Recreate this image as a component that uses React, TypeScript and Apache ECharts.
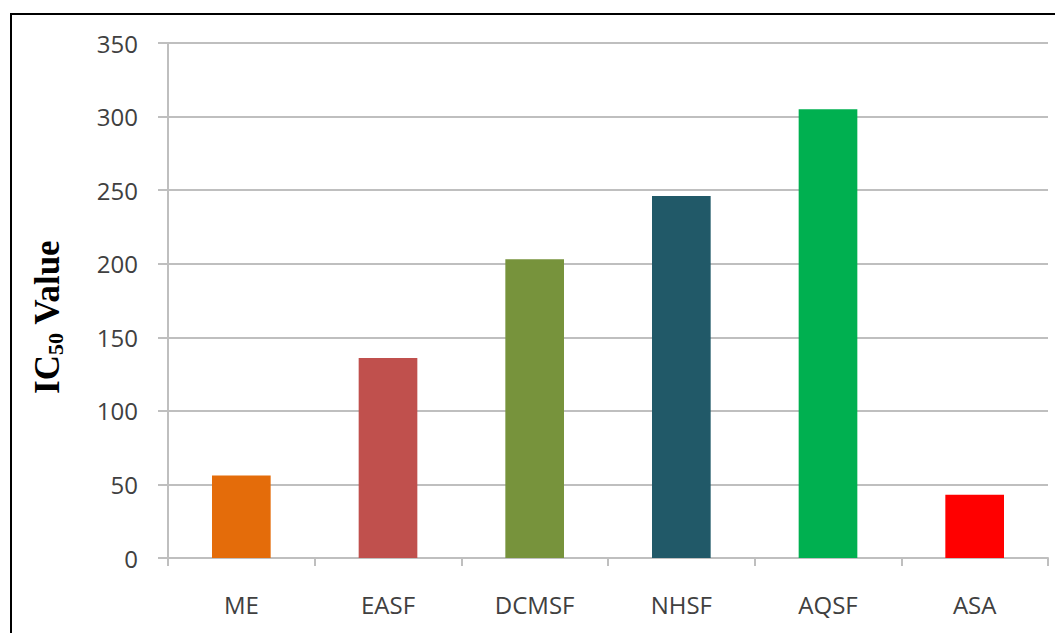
import React, { useEffect, useRef } from "react";
import * as echarts from "echarts";

// IC50 values per extract / reference compound
const categories = ["ME", "EASF", "DCMSF", "NHSF", "AQSF", "ASA"];
const ic50Values = [56, 136, 203, 246, 305, 43];
const barColors = ["#E46C0A", "#C0504D", "#77933C", "#215968", "#00B050", "#FF0000"];
const yTicks = { min: 0, max: 350, interval: 50 };

export default function App() {
  const ref = useRef<HTMLDivElement>(null);

  useEffect(() => {
    if (!ref.current) return;
    const chart = echarts.init(ref.current, undefined, { renderer: "svg" });
    const labelFont = "'Open Sans', 'Liberation Sans', sans-serif";
    chart.setOption({
      animation: false,
      backgroundColor: "#ffffff",
      grid: { left: 168, right: 7, top: 43, bottom: 75, containLabel: false },
      xAxis: {
        type: "category",
        data: categories,
        axisLine: { show: true, lineStyle: { color: "#BFBFBF", width: 2 } },
        axisTick: { show: true, length: 8, lineStyle: { color: "#BFBFBF", width: 2 } },
        axisLabel: { color: "#404040", fontSize: 24, fontFamily: labelFont, margin: 34 },
      },
      yAxis: {
        type: "value",
        min: yTicks.min,
        max: yTicks.max,
        interval: yTicks.interval,
        axisLine: { show: true, lineStyle: { color: "#BFBFBF", width: 2 } },
        axisTick: { show: true, length: 10, lineStyle: { color: "#BFBFBF", width: 2 } },
        splitLine: { show: true, lineStyle: { color: "#BFBFBF", width: 2 } },
        axisLabel: { color: "#404040", fontSize: 24, fontFamily: labelFont, margin: 30 },
      },
      series: [
        {
          type: "bar",
          barWidth: "40%",
          data: ic50Values.map((v, i) => ({ value: v, itemStyle: { color: barColors[i] } })),
        },
      ],
      graphic: [
        {
          type: "rect",
          shape: { x: 11, y: 14, width: 1100, height: 700 },
          style: { fill: "none", stroke: "#000000", lineWidth: 2 },
          silent: true,
        },
        {
          type: "text",
          x: 47,
          y: 317,
          rotation: Math.PI / 2,
          style: {
            text: "{a|IC}{b|50}{a| Value}",
            align: "center",
            verticalAlign: "middle",
            rich: {
              a: { fontFamily: "'Liberation Serif', serif", fontWeight: "bold", fontSize: 35, fill: "#000", lineHeight: 38 },
              b: { fontFamily: "'Liberation Serif', serif", fontWeight: "bold", fontSize: 22, fill: "#000", lineHeight: 38, verticalAlign: "bottom", padding: [15, 0, 0, 0] },
            },
          },
        },
      ],
    });
    return () => chart.dispose();
  }, []);

  return (
    <div
      ref={ref}
      style={{ position: "fixed", left: 0, top: 0, width: 1055, height: 633 }}
    />
  );
}
